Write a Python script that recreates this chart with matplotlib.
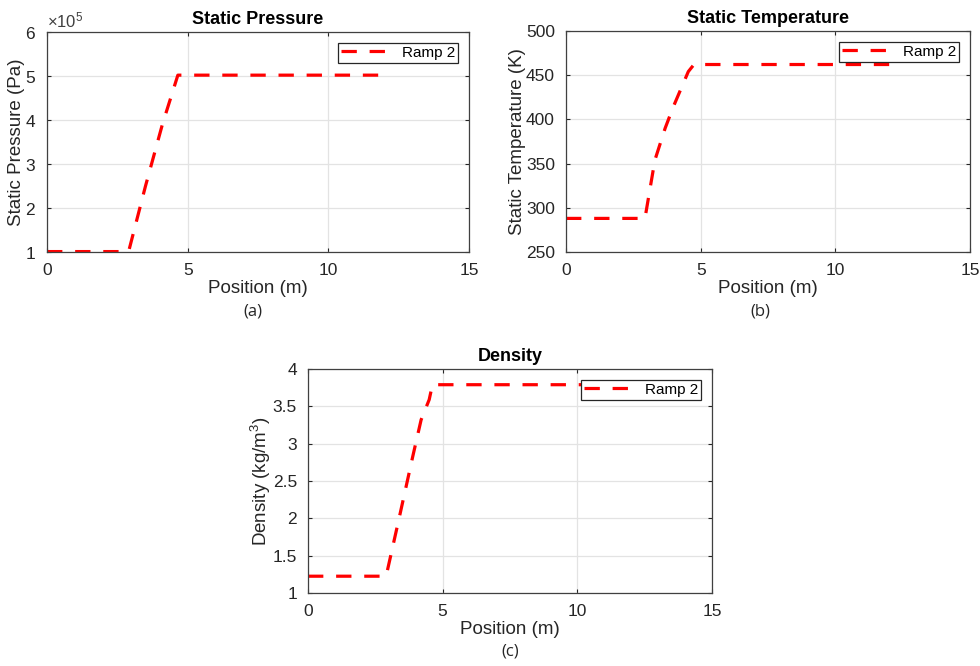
import numpy as np
import matplotlib
matplotlib.use("agg")
import matplotlib.pyplot as plt
from matplotlib.ticker import ScalarFormatter, FormatStrFormatter

plt.rcParams.update({'font.family': "sans-serif",
                     'font.sans-serif': ["Liberation Sans", "DejaVu Sans"],
                     'mathtext.fontset': "custom",
                     'mathtext.rm': "Liberation Sans",
                     'mathtext.it': "Liberation Sans",
                     'xtick.direction': "in",
                     'ytick.direction': "in",
                     })

# Data
pos_pressure = [0.0, 2.9, 3.5, 4.1, 4.65, 11.8]
pressure = [1.01e5, 1.01e5, 2.5e5, 3.9e5, 5.02e5, 5.02e5]

pos_temperature = [0.0, 2.93, 3.3, 3.68, 3.98, 4.54, 4.75, 12.2]
temperature = [288, 288, 354, 390, 414, 454, 462, 462]

pos_density = [0.0, 2.9, 3.4, 3.89, 4.2, 4.5, 4.62, 11.8]
density = [1.225, 1.225, 2.03, 2.83, 3.32, 3.59, 3.79, 3.79]

titles = ["Static Pressure", "Static Temperature", "Density"]
ylabels = ["Static Pressure (Pa)", "Static Temperature (K)", r"Density (kg/m$^3$)"]
ylims = [(1e5, 6e5), (250, 500), (1, 4)]
captions = ["(a)", "(b)", "(c)"]
label = "Ramp 2"

axis_color = "#404040"


def format_axis(ax, title, ylabel, ylim):
    ax.set_xlim(0, 15)
    ax.set_ylim(*ylim)
    ax.set_xticks([0, 5, 10, 15])
    ax.grid(True, color="#e3e3e3", linewidth=0.9)
    ax.set_axisbelow(True)
    ax.tick_params(labelsize=12.5, colors="#262626", length=3, top=True, right=True)
    ax.tick_params(axis="x", pad=8)
    ax.tick_params(axis="y", pad=8)
    for s in ax.spines.values():
        s.set_color(axis_color)
        s.set_linewidth(0.9)
    ax.set_title(title, fontsize=13, fontweight="bold", pad=6)
    ax.set_xlabel("Position (m)", fontsize=13.5, color="#262626", labelpad=1)
    ax.set_ylabel(ylabel, fontsize=13.5, color="#262626", labelpad=0)
    leg = ax.legend(loc="upper right", fontsize=11, handlelength=3.0,
                    fancybox=False, framealpha=1, edgecolor="#262626",
                    borderpad=0.2, borderaxespad=0.7, handletextpad=1.0)
    leg.get_frame().set_linewidth(0.9)
    return ax


fig = plt.figure(figsize=(9.8, 6.66), dpi=100)
rects = [
    [0.048, 0.6216, 0.4306, 0.3303],
    [0.5776, 0.6216, 0.4122, 0.332],
    [0.3143, 0.1096, 0.4122, 0.3363],
]
series = [(pos_pressure, pressure), (pos_temperature, temperature), (pos_density, density)]

for rect, (x, y), title, ylabel, ylim in zip(rects, series, titles, ylabels, ylims):
    ax = fig.add_axes(rect)
    ax.plot(x, y, color="red", linewidth=2.3, linestyle=(0, (4.8, 4.0)), label=label)
    format_axis(ax, title, ylabel, ylim)
    if ylim[1] > 1000:
        fmt = ScalarFormatter(useMathText=True)
        fmt.set_powerlimits((0, 0))
        ax.yaxis.set_major_formatter(fmt)
        ax.yaxis.get_offset_text().set_fontsize(12)
        ax.yaxis.get_offset_text().set_color("#404040")
    else:
        ax.yaxis.set_major_formatter(FormatStrFormatter("%g"))

# sub-figure captions
caption_pos = [(253 / 980, 1 - 312 / 666), (760 / 980, 1 - 312 / 666), (510 / 980, 1 - 652 / 666)]
for (cx, cy), cap in zip(caption_pos, captions):
    fig.text(cx, cy, cap, ha="center", va="center", fontsize=12, family="Open Sans",
             color="#262626")

fig.savefig("out.png", dpi=100)
